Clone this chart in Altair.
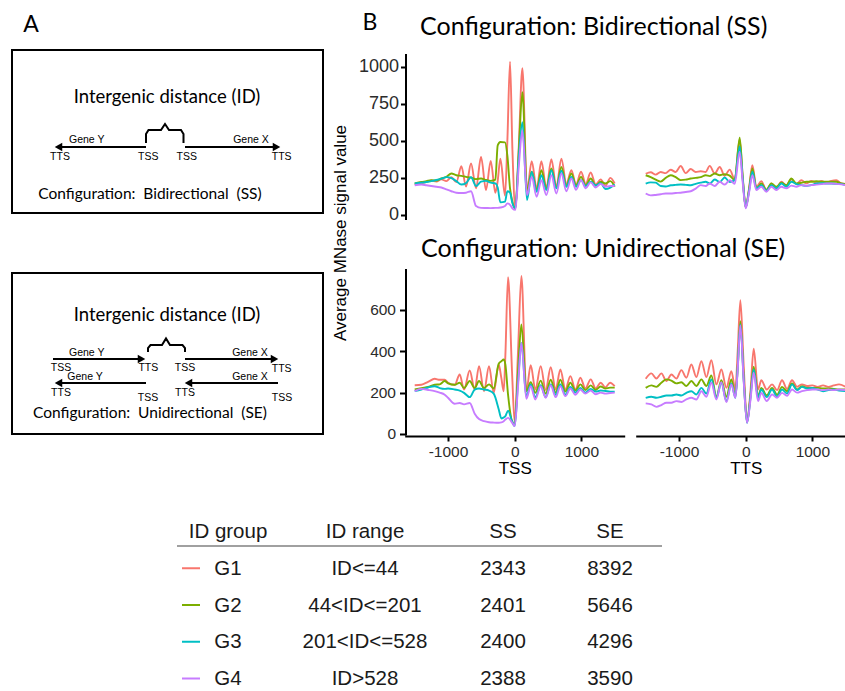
import altair as alt
import pandas as pd

# ------------------------------------------------------------------ data
GROUPS = ["G1", "G2", "G3", "G4"]
GROUP_COLORS = ["#F8766D", "#7CAE00", "#00BFC4", "#C77CFF"]
ID_RANGE = ["ID<=44", "44<ID<=201", "201<ID<=528", "ID>528"]
N_SS = ["2343", "2401", "2400", "2388"]
N_SE = ["8392", "5646", "4296", "3590"]

# Bidirectional (SS), around TSS
ss_tss_pos = [-1500, -1400, -1325, -1250, -1175, -1100, -1025, -950, -875, -800, -730, -655, -580, -505, -430,
              -360, -290, -255, -215, -145, -110, -70, -35, 10, 60, 115, 185, 255, 330, 400, 475, 550, 625, 700,
              775, 850, 920, 995, 1065, 1140, 1215, 1290, 1360, 1435, 1500]
ss_tss_g1 = [206, 215, 222, 232, 226, 240, 228, 255, 222, 329, 192, 347, 180, 391, 168, 365, 150, 230, 380, 130,
             500, 1034, 450, 45, 450, 990, 165, 362, 178, 362, 182, 376, 188, 380, 210, 302, 205, 291, 210, 286,
             205, 240, 197, 250, 212]
ss_tss_g2 = [212, 222, 228, 235, 232, 246, 257, 280, 268, 264, 257, 252, 242, 246, 236, 230, 238, 470, 492, 490,
             400, 180, 90, 40, 420, 828, 157, 291, 168, 302, 179, 313, 183, 324, 197, 280, 201, 257, 200, 246,
             197, 224, 212, 228, 190]
ss_tss_g3 = [212, 217, 222, 228, 236, 245, 255, 248, 228, 205, 215, 255, 195, 225, 230, 218, 213, 185, 85, 90,
             160, 150, 80, 45, 380, 626, 100, 291, 157, 268, 168, 302, 179, 298, 190, 257, 190, 235, 195, 225,
             200, 215, 175, 185, 205]
ss_tss_g4 = [200, 205, 200, 195, 190, 185, 172, 160, 150, 148, 150, 160, 60, 48, 47, 46, 48, 48, 50, 60,
             78, 68, 45, 34, 320, 570, 134, 257, 123, 235, 134, 268, 145, 280, 160, 246, 170, 235, 180, 220,
             185, 210, 190, 195, 195]

# Bidirectional (SS), around TTS
ss_tts_pos = [-1500, -1425, -1350, -1275, -1200, -1125, -1050, -975, -900, -825, -750, -675, -600, -540, -465,
              -390, -315, -240, -165, -90, -45, 0, 50, 100, 160, 235, 310, 385, 460, 535, 610, 685, 760, 835,
              910, 985, 1060, 1135, 1210, 1285, 1360, 1435, 1500]
ss_tts_g1 = [278, 288, 272, 290, 282, 305, 290, 330, 282, 310, 290, 295, 290, 331, 280, 324, 265, 306, 240, 508,
             250, 51, 180, 335, 190, 228, 168, 212, 182, 224, 200, 241, 208, 235, 213, 230, 218, 230, 218, 230,
             235, 212, 208]
ss_tts_g2 = [268, 255, 238, 225, 250, 268, 255, 235, 238, 246, 250, 255, 268, 262, 280, 268, 275, 265, 235, 521,
             260, 51, 170, 313, 179, 212, 168, 212, 190, 217, 200, 246, 212, 217, 224, 224, 228, 224, 224, 224,
             224, 212, 208]
ss_tts_g3 = [212, 220, 218, 195, 192, 200, 203, 205, 203, 200, 210, 218, 224, 212, 239, 222, 253, 222, 235, 463,
             240, 51, 160, 291, 179, 201, 163, 201, 179, 212, 190, 224, 208, 201, 196, 201, 212, 215, 212, 212,
             210, 208, 201]
ss_tts_g4 = [145, 132, 135, 140, 145, 145, 148, 150, 155, 160, 178, 201, 195, 212, 195, 224, 205, 235, 210, 425,
             220, 45, 150, 268, 168, 190, 157, 190, 168, 190, 180, 198, 190, 201, 197, 201, 205, 208, 212, 212,
             210, 206, 201]

# Unidirectional (SE), around TSS
se_tss_pos = [-1500, -1400, -1300, -1200, -1125, -1050, -1000, -900, -825, -760, -675, -600, -535, -460, -385,
              -315, -240, -200, -165, -140, -100, -40, 0, 50, 100, 175, 240, 310, 390, 465, 540, 615, 685, 760,
              835, 910, 985, 1060, 1140, 1215, 1290, 1360, 1430, 1500]
se_tss_g1 = [236, 238, 252, 267, 262, 262, 248, 238, 288, 215, 307, 215, 328, 207, 328, 199, 336, 270, 207, 380,
             759, 300, 54, 400, 764, 207, 333, 215, 328, 212, 323, 215, 312, 215, 280, 215, 272, 220, 264, 220,
             248, 225, 248, 231]
se_tss_g2 = [215, 222, 227, 238, 240, 256, 245, 238, 248, 222, 256, 222, 256, 222, 240, 220, 340, 352, 360, 336,
             191, 62, 46, 300, 530, 207, 250, 199, 258, 195, 262, 200, 262, 205, 248, 210, 240, 212, 235, 213,
             230, 220, 224, 224]
se_tss_g3 = [207, 215, 225, 231, 222, 218, 220, 215, 210, 199, 178, 215, 220, 215, 210, 195, 120, 75, 80, 86,
             113, 62, 38, 250, 440, 180, 240, 178, 236, 178, 240, 190, 240, 190, 227, 200, 223, 200, 218, 205,
             210, 208, 205, 205]
se_tss_g4 = [207, 218, 213, 207, 200, 190, 175, 146, 150, 143, 150, 98, 72, 62, 57, 55, 54, 56, 62, 70,
             78, 55, 38, 230, 440, 170, 231, 167, 231, 175, 236, 178, 231, 183, 220, 190, 215, 195, 210, 192,
             200, 195, 198, 200]

# Unidirectional (SE), around TTS
se_tts_pos = [-1500, -1415, -1340, -1265, -1190, -1115, -1040, -965, -890, -815, -740, -665, -590, -515, -440,
              -365, -290, -215, -155, -120, -80, -30, 20, 70, 120, 185, 235, 315, 395, 470, 545, 620, 695, 770,
              845, 920, 1000, 1080, 1160, 1240, 1320, 1400, 1500]
se_tts_g1 = [267, 293, 268, 293, 256, 288, 268, 309, 272, 336, 275, 352, 275, 357, 240, 312, 223, 304, 215, 400,
             647, 330, 62, 200, 412, 215, 260, 215, 240, 212, 260, 218, 260, 228, 240, 232, 235, 228, 235, 228,
             235, 240, 228]
se_tts_g2 = [223, 235, 228, 248, 264, 258, 245, 250, 232, 256, 232, 264, 232, 283, 180, 260, 180, 264, 183, 320,
             546, 270, 57, 180, 325, 183, 223, 187, 223, 190, 228, 207, 244, 215, 231, 223, 223, 223, 220, 220,
             218, 215, 215]
se_tts_g3 = [175, 180, 175, 180, 186, 186, 191, 186, 199, 207, 191, 223, 196, 264, 175, 248, 159, 244, 175, 320,
             530, 260, 54, 170, 312, 175, 215, 178, 215, 180, 215, 196, 240, 212, 228, 220, 223, 215, 207, 212,
             215, 210, 207]
se_tts_g4 = [148, 143, 131, 140, 151, 151, 159, 155, 167, 175, 167, 207, 180, 248, 167, 251, 154, 240, 175, 310,
             525, 255, 54, 160, 296, 159, 199, 159, 191, 175, 199, 185, 215, 200, 207, 212, 215, 215, 212, 215,
             212, 215, 212]


def long_df(pos, series):
    rows = []
    for g, vals in zip(GROUPS, series):
        for p, v in zip(pos, vals):
            rows.append({"pos": p, "val": v, "group": g})
    return pd.DataFrame(rows)


W, H = 845, 691
AXIS_FONT = "Liberation Sans"
TITLE_FONT = "Lato"

color_enc = alt.Color("group:N", scale=alt.Scale(domain=GROUPS, range=GROUP_COLORS), legend=None)

# layout of the four profile panels (pixel ranges)
X_LEFT = [404.7, 624.7]
X_RIGHT = [635.7, 855.7]
X_DOMAIN = [-1650, 1650]
Y_TOP_DOMAIN, Y_TOP_RANGE = [-30, 1090], [219.4, 53.4]
Y_BOT_DOMAIN, Y_BOT_RANGE = [-5, 801], [435.0, 268.4]

PLAIN = "'' + datum.value"


def yaxis(values, fs, tick, pad):
    return alt.Axis(orient="left", offset=-405.5, values=values, title=None, grid=False, labelExpr=PLAIN,
                    domainColor="black", domainWidth=2, tickColor="black", tickWidth=2, tickSize=tick,
                    labelFont=AXIS_FONT, labelFontSize=fs, labelColor="#2b2b2b", labelPadding=pad)


def xaxis(title):
    return alt.Axis(orient="bottom", offset=436 - H, values=[-1000, 0, 1000], grid=False, labelExpr=PLAIN,
                    domainColor="black", domainWidth=2, tickColor="black", tickWidth=2, tickSize=5,
                    labelFont=AXIS_FONT, labelFontSize=15.5, labelColor="#2b2b2b", labelPadding=3,
                    title=title, titleFont=AXIS_FONT, titleFontSize=17, titleFontWeight="normal",
                    titleColor="black", titlePadding=1)


def panel(df, xr, ydom, yr, xax, yax):
    return alt.Chart(df).mark_line(strokeWidth=1.9, interpolate="monotone").encode(
        x=alt.X("pos:Q", scale=alt.Scale(domain=X_DOMAIN, range=xr, nice=False, zero=False), axis=xax),
        y=alt.Y("val:Q", scale=alt.Scale(domain=ydom, range=yr, nice=False, zero=False), axis=yax),
        color=color_enc,
    )


p_ss_tss = panel(long_df(ss_tss_pos, [ss_tss_g1, ss_tss_g2, ss_tss_g3, ss_tss_g4]),
                 X_LEFT, Y_TOP_DOMAIN, Y_TOP_RANGE, None, yaxis([0, 250, 500, 750, 1000], 18, 5, 2))
p_ss_tts = panel(long_df(ss_tts_pos, [ss_tts_g1, ss_tts_g2, ss_tts_g3, ss_tts_g4]),
                 X_RIGHT, Y_TOP_DOMAIN, Y_TOP_RANGE, None, None)
p_se_tss = panel(long_df(se_tss_pos, [se_tss_g1, se_tss_g2, se_tss_g3, se_tss_g4]),
                 X_LEFT, Y_BOT_DOMAIN, Y_BOT_RANGE, xaxis("TSS"), yaxis([0, 200, 400, 600], 15.5, 6, 4))
p_se_tts = panel(long_df(se_tts_pos, [se_tts_g1, se_tts_g2, se_tts_g3, se_tts_g4]),
                 X_RIGHT, Y_BOT_DOMAIN, Y_BOT_RANGE, xaxis("TTS"), None)

# ------------------------------------------------------------------ panel A schematic
cx = alt.Scale(domain=[0, W], range=[0, W], nice=False, zero=False)
cy = alt.Scale(domain=[0, H], range=[0, H], nice=False, zero=False)


def X(f):
    return alt.X(f, type="quantitative", scale=cx, axis=None)


def Y(f):
    return alt.Y(f, type="quantitative", scale=cy, axis=None)


boxes = pd.DataFrame({"x0": [12, 12], "x1": [323, 323], "y0": [50, 273], "y1": [213, 434]})
box_layer = alt.Chart(boxes).mark_rect(fillOpacity=0, stroke="black", strokeWidth=2).encode(
    x=X("x0"), x2="x1", y=Y("y0"), y2="y1")

# arrows: start, tip, y
arrows = pd.DataFrame({
    "start": [146, 185, 53, 185, 146, 278],
    "tip": [55, 280, 145, 278, 55, 185],
    "y": [147, 147, 359, 359, 383, 383],
})
arrows["dir"] = ["left" if t < s else "right" for s, t in zip(arrows.start, arrows.tip)]
arrows["line_end"] = [t + 3 if d == "left" else t - 3 for t, d in zip(arrows.tip, arrows.dir)]
arrows["head"] = [t + 3.5 if d == "left" else t - 3.5 for t, d in zip(arrows.tip, arrows.dir)]
arrow_lines = alt.Chart(arrows).mark_rule(color="black", strokeWidth=2.2).encode(
    x=X("start"), x2="line_end", y=Y("y"))
arrow_heads = alt.Chart(arrows).mark_point(filled=True, color="black", size=75, opacity=1).encode(
    x=X("head"), y=Y("y"),
    shape=alt.Shape("dir:N", scale=alt.Scale(domain=["left", "right"], range=["triangle-left", "triangle-right"]),
                    legend=None))

brace_pts = [
    (1, 146, 143), (1, 146, 134), (1, 148.5, 130), (1, 161, 130), (1, 165, 124), (1, 169, 130), (1, 181, 130),
    (1, 183.5, 134), (1, 183.5, 143),
    (2, 148, 352), (2, 148, 348), (2, 150.5, 345), (2, 162, 345), (2, 166, 338.5), (2, 170, 345), (2, 182.5, 345),
    (2, 185, 348), (2, 185, 352),
]
braces = pd.DataFrame(brace_pts, columns=["id", "x", "y"])
braces["k"] = range(len(braces))
brace_layer = alt.Chart(braces).mark_line(color="black", strokeWidth=2).encode(
    x=X("x"), y=Y("y"), detail="id:N", order="k:Q")

small_lbl = pd.DataFrame([
    ("Gene Y", 86.7, 140), ("Gene X", 251, 140), ("TTS", 60, 157), ("TSS", 148.3, 157), ("TSS", 186.7, 157),
    ("TTS", 281.7, 157),
    ("Gene Y", 86.7, 352.5), ("Gene X", 250, 352.5), ("TSS", 61, 368), ("TTS", 148.3, 368), ("TSS", 185, 368),
    ("TTS", 281.7, 369), ("Gene Y", 85, 376.5), ("Gene X", 250, 376.5), ("TTS", 61, 392.5), ("TSS", 148, 397.5),
    ("TTS", 185, 392.5), ("TSS", 282, 397.5),
], columns=["t", "x", "y"])
small_layer = alt.Chart(small_lbl).mark_text(font=AXIS_FONT, fontSize=10.5, color="black", baseline="middle").encode(
    x=X("x"), y=Y("y"), text="t:N")

id_lbl = pd.DataFrame([("Intergenic distance (ID)", 167, 97), ("Intergenic distance (ID)", 167, 315)],
                      columns=["t", "x", "y"])
id_layer = alt.Chart(id_lbl).mark_text(font=TITLE_FONT, fontSize=18.5, color="black", baseline="middle").encode(
    x=X("x"), y=Y("y"), text="t:N")

cfg_lbl = pd.DataFrame([("Configuration:\u00a0 Bidirectional\u00a0 (SS)", 150, 194),
                        ("Configuration:\u00a0 Unidirectional\u00a0 (SE)", 150, 413)], columns=["t", "x", "y"])
cfg_layer = alt.Chart(cfg_lbl).mark_text(font=TITLE_FONT, fontSize=15.5, color="black", baseline="middle").encode(
    x=X("x"), y=Y("y"), text="t:N")


def note(text, x, y, size, font=TITLE_FONT, align="center", baseline="middle", angle=0, color="black"):
    kw = dict(font=font, fontSize=size, align=align, baseline=baseline, color=color)
    if angle:
        kw["angle"] = angle
    return alt.Chart(pd.DataFrame({"t": [text]})).mark_text(**kw).encode(
        x=alt.value(x), y=alt.value(y), text="t:N")


notes = [
    note("A", 31, 25, 23),
    note("B", 370, 23, 23),
    note("Configuration: Bidirectional (SS)", 420, 35, 25, align="left", baseline="alphabetic"),
    note("Configuration: Unidirectional (SE)", 421, 257, 25, align="left", baseline="alphabetic"),
    note("Average MNase signal value", 341, 233, 17, font=AXIS_FONT, angle=270),
]

# ------------------------------------------------------------------ table
tab_y = alt.Scale(domain=[0, 4], range=[538, 685], nice=False, zero=False)
sw_y = alt.Scale(domain=[0, 4], range=[531.5, 678.5], nice=False, zero=False)

columns = [
    (228, ["ID group"] + GROUPS),
    (365, ["ID range"] + ID_RANGE),
    (503, ["SS"] + N_SS),
    (610, ["SE"] + N_SE),
]
table_layers = []
for cxp, labels in columns:
    d = pd.DataFrame({"row": list(range(len(labels))), "label": labels})
    table_layers.append(
        alt.Chart(d).mark_text(font=AXIS_FONT, fontSize=20.5, align="center", baseline="alphabetic",
                               color="#1a1a1a").encode(
            x=alt.value(cxp), y=alt.Y("row:Q", scale=tab_y, axis=None), text="label:N"))

header_rule = alt.Chart(pd.DataFrame({"a": [0]})).mark_rule(color="#808080", strokeWidth=1.5).encode(
    x=alt.value(177), x2=alt.value(662), y=alt.value(546))
sw = pd.DataFrame({"row": [1, 2, 3, 4], "group": GROUPS})
swatches = alt.Chart(sw).mark_rule(strokeWidth=2).encode(
    x=alt.value(182), x2=alt.value(200), y=alt.Y("row:Q", scale=sw_y, axis=None), color=color_enc)

layers = [box_layer, arrow_lines, arrow_heads, brace_layer, small_layer, id_layer, cfg_layer,
          p_ss_tss, p_ss_tts, p_se_tss, p_se_tts, header_rule, swatches] + table_layers + notes

chart = alt.layer(*layers).resolve_scale(x="independent", y="independent").properties(
    width=W, height=H, autosize=alt.AutoSizeParams(type="none"), padding=0
).configure_view(stroke="transparent")

chart.save("out.html", embed_options={"renderer": "svg", "actions": False})
